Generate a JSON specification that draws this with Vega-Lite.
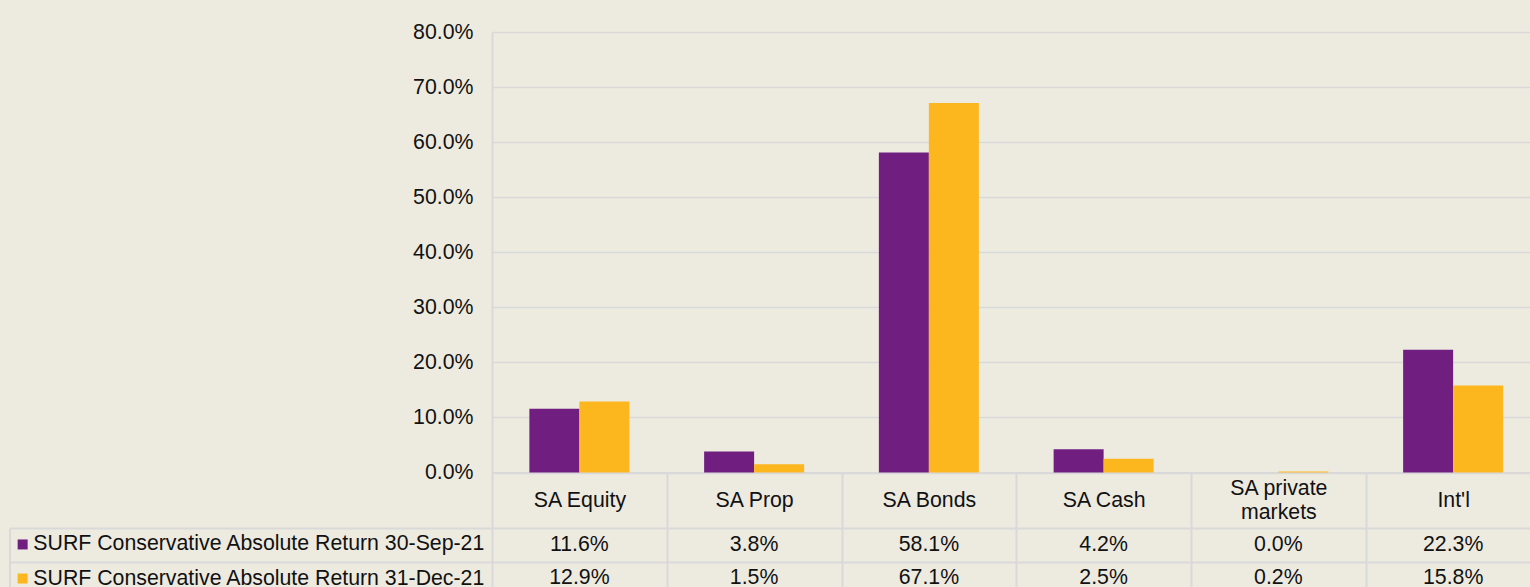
{
  "$schema": "https://vega.github.io/schema/vega-lite/v6.json",
  "autosize": {"type": "none"},
  "width": 1038,
  "height": 440.5,
  "padding": {"left": 492, "top": 32, "right": 0, "bottom": 114.5},
  "background": "#EDEAE0",
  "config": {
    "view": {"stroke": null},
    "font": "Liberation Sans",
    "text": {"font": "Liberation Sans"}
  },
  "data": {
    "values": [
      {"category": "SA Equity", "series": "SURF Conservative Absolute Return 30-Sep-21", "value": 0.116},
      {"category": "SA Equity", "series": "SURF Conservative Absolute Return 31-Dec-21", "value": 0.129},
      {"category": "SA Prop", "series": "SURF Conservative Absolute Return 30-Sep-21", "value": 0.038},
      {"category": "SA Prop", "series": "SURF Conservative Absolute Return 31-Dec-21", "value": 0.015},
      {"category": "SA Bonds", "series": "SURF Conservative Absolute Return 30-Sep-21", "value": 0.581},
      {"category": "SA Bonds", "series": "SURF Conservative Absolute Return 31-Dec-21", "value": 0.671},
      {"category": "SA Cash", "series": "SURF Conservative Absolute Return 30-Sep-21", "value": 0.042},
      {"category": "SA Cash", "series": "SURF Conservative Absolute Return 31-Dec-21", "value": 0.025},
      {"category": "SA private markets", "series": "SURF Conservative Absolute Return 30-Sep-21", "value": 0.0},
      {"category": "SA private markets", "series": "SURF Conservative Absolute Return 31-Dec-21", "value": 0.002},
      {"category": "Int'l", "series": "SURF Conservative Absolute Return 30-Sep-21", "value": 0.223},
      {"category": "Int'l", "series": "SURF Conservative Absolute Return 31-Dec-21", "value": 0.158}
    ]
  },
  "encoding": {
    "x": {
      "field": "category",
      "type": "nominal",
      "sort": ["SA Equity", "SA Prop", "SA Bonds", "SA Cash", "SA private markets", "Int'l"],
      "scale": {"range": [0, 1048.5], "paddingInner": 0, "paddingOuter": 0},
      "axis": {
        "orient": "bottom",
        "title": null,
        "domain": true,
        "domainColor": "#D9D9D9",
        "domainWidth": 2,
        "ticks": true,
        "tickBand": "extent",
        "tickSize": 122.5,
        "tickColor": "#D9D9D9",
        "tickWidth": 2,
        "grid": false,
        "labelAngle": 0,
        "labelPadding": {"expr": "datum.value == 'SA private markets' ? -106.5 : -94.5"},
        "labelBaseline": "middle",
        "labelFontSize": 21.3,
        "labelColor": "#111111",
        "labelLineHeight": 24,
        "labelLimit": 0,
        "labelExpr": "datum.label == 'SA private markets' ? ['SA private', 'markets'] : datum.label"
      }
    }
  },
  "layer": [
    {
      "mark": {"type": "bar"},
      "encoding": {
        "xOffset": {
          "field": "series",
          "type": "nominal",
          "scale": {"paddingInner": 0, "paddingOuter": 0.7475}
        },
        "y": {
          "field": "value",
          "type": "quantitative",
          "scale": {"domain": [0, 0.8], "nice": false, "zero": true},
          "axis": {
            "orient": "left",
            "offset": 0,
            "title": null,
            "format": ".1%",
            "values": [0, 0.1, 0.2, 0.3, 0.4, 0.5, 0.6, 0.7, 0.8],
            "grid": true,
            "gridColor": "#D9D9D9",
            "gridWidth": 1.5,
            "domain": true,
            "domainColor": "#D9D9D9",
            "domainWidth": 2,
            "ticks": false,
            "labelPadding": 19,
            "labelFontSize": 21.3,
            "labelColor": "#111111"
          }
        },
        "color": {
          "field": "series",
          "type": "nominal",
          "scale": {"range": ["#701F80", "#FDB71E"]},
          "legend": {
            "orient": "none",
            "legendX": -480,
            "legendY": 501.8,
            "title": null,
            "symbolType": "square",
            "symbolSize": 100,
            "symbolStrokeWidth": 0,
            "symbolOpacity": 1,
            "labelFontSize": 21.3,
            "labelColor": "#111111",
            "labelOffset": 0,
            "labelLimit": 0,
            "rowPadding": 12.1,
            "padding": 0
          }
        }
      }
    },
    {
      "mark": {"type": "text", "fontSize": 21.3, "color": "#111111", "baseline": "middle", "align": "center"},
      "encoding": {
        "y": {
          "field": "series",
          "type": "nominal",
          "scale": {"range": [496.3, 563], "paddingInner": 0, "paddingOuter": 0},
          "axis": {
            "orient": "left",
            "offset": 482.5,
            "title": null,
            "labels": false,
            "domain": true,
            "domainColor": "#D9D9D9",
            "domainWidth": 2,
            "ticks": true,
            "tickBand": "extent",
            "tickSize": -482.5,
            "tickColor": "#D9D9D9",
            "tickWidth": 2,
            "grid": true,
            "gridColor": "#D9D9D9",
            "gridWidth": 2
          }
        },
        "text": {"field": "value", "type": "quantitative", "format": ".1%"}
      }
    }
  ],
  "resolve": {"scale": {"y": "independent"}, "axis": {"y": "independent"}}
}
